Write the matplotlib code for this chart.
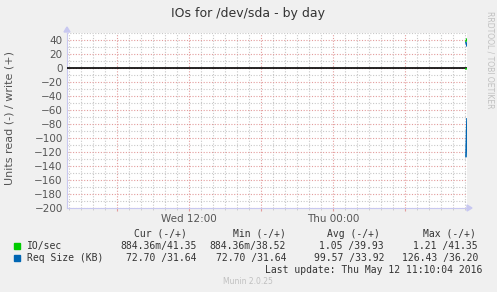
import matplotlib
matplotlib.use('Agg')
import matplotlib.pyplot as plt
import matplotlib.dates as mdates
from matplotlib.patches import Rectangle
from matplotlib.ticker import MultipleLocator, FuncFormatter
from datetime import datetime, timedelta

# ---- data ----
last_update = datetime(2016, 5, 12, 11, 10, 4)
sample_times = [last_update - timedelta(minutes=5), last_update]

io_read = [-1.21, -0.884]
io_write = [38.52, 41.35]
req_read = [-126.43, -72.70]
req_write = [36.20, 31.64]

series_names = ['IO/sec', 'Req Size (KB)']
series_colors = ['#00cc00', '#0066b3']
stat_headers = ['Cur (-/+)', 'Min (-/+)', 'Avg (-/+)', 'Max (-/+)']
stat_values = [
    ['884.36m/41.35', '884.36m/38.52', '1.05 /39.93', '1.21 /41.35'],
    ['72.70 /31.64', '72.70 /31.64', '99.57 /33.92', '126.43 /36.20'],
]

W, H = 497, 292
BG = '#f0f0f0'
MAJOR = '#e39c9c'
MINOR = '#c8c8c8'
AXIS = '#c8c8f0'
TXT = '#555555'

fig = plt.figure(figsize=(W / 100, H / 100), dpi=100, facecolor=BG)

# plot area in pixels: x 67..467, y 33..208
left, right, top, bottom = 67, 467, 33, 208
ax = fig.add_axes([left / W, 1 - bottom / H, (right - left) / W, (bottom - top) / H])
ax.set_facecolor('white')

t_end = last_update
t_start = t_end - timedelta(seconds=400 * 300)
ax.set_xlim(t_start, t_end)
ax.set_ylim(-200, 50)

ax.xaxis.set_major_locator(mdates.HourLocator(byhour=[0, 6, 12, 18]))
ax.xaxis.set_minor_locator(mdates.HourLocator())


def xlabel(x, pos):
    d = mdates.num2date(x)
    if d.hour in (0, 12):
        return d.strftime('%a %H:%M')
    return ''


ax.xaxis.set_major_formatter(FuncFormatter(xlabel))
ax.yaxis.set_major_locator(MultipleLocator(20))
ax.yaxis.set_minor_locator(MultipleLocator(10))

ax.grid(which='minor', color=MINOR, linestyle=(0, (1, 1.5)), linewidth=0.8)
ax.grid(which='major', color=MAJOR, linestyle=(0, (1, 1.5)), linewidth=0.8)
ax.set_axisbelow(True)

ax.tick_params(axis='both', which='major', labelsize=7.5, labelcolor=TXT, color=MAJOR, length=2, pad=2)
ax.tick_params(axis='both', which='minor', color=MINOR, length=1.5)
ax.tick_params(axis='y', which='both', length=0, pad=3)

for s in ['top', 'right']:
    ax.spines[s].set_visible(False)
for s in ['left', 'bottom']:
    ax.spines[s].set_color(AXIS)
    ax.spines[s].set_linewidth(0.8)

# zero line
ax.axhline(0, color='black', linewidth=1.2, zorder=3)

ax.plot(sample_times, io_read, color=series_colors[0], linewidth=1.2, zorder=4)
ax.plot(sample_times, io_write, color=series_colors[0], linewidth=1.2, zorder=4)
ax.plot(sample_times, req_read, color=series_colors[1], linewidth=1.2, zorder=4)
ax.plot(sample_times, req_write, color=series_colors[1], linewidth=1.2, zorder=4)

# arrows at axis ends
fig.patches.append(plt.Polygon([[left - 3, H - top + 1], [left + 3, H - top + 1], [left, H - top + 6]],
                               closed=True, color=AXIS, transform=None, figure=fig))
fig.patches.append(plt.Polygon([[right, H - bottom - 3], [right, H - bottom + 3], [right + 5, H - bottom]],
                               closed=True, color=AXIS, transform=None, figure=fig))

# texts
fig.text(248 / W, 1 - 13 / H, 'IOs for /dev/sda - by day', ha='center', va='center',
         fontsize=9, color='#333333')
fig.text(10 / W, 1 - 118 / H, 'Units read (-) / write (+)', ha='center', va='center',
         rotation=90, fontsize=8, color=TXT)
fig.text(490 / W, 1 - 60 / H, 'RRDTOOL / TOBI OETIKER', ha='center', va='center',
         rotation=270, fontsize=5.5, color='#c0c0c0')

mono = 'DejaVu Sans Mono'
header_x = [187, 286, 380, 476]
value_x = [197, 286, 384, 478]
for hx, h in zip(header_x, stat_headers):
    fig.text(hx / W, 1 - 234 / H, h, ha='right', va='center', family=mono, fontsize=7, color='#333333')
for row, (name, col, vals) in enumerate(zip(series_names, series_colors, stat_values)):
    y = 246 + row * 12
    fig.patches.append(Rectangle((14, H - y - 3), 6, 6, color=col, transform=None, figure=fig))
    fig.text(27 / W, 1 - y / H, name, ha='left', va='center', family=mono, fontsize=7, color='#333333')
    for vx, v in zip(value_x, vals):
        fig.text(vx / W, 1 - y / H, v, ha='right', va='center', family=mono, fontsize=7, color='#333333')

fig.text(482 / W, 1 - 270 / H, 'Last update: ' + last_update.strftime('%a %b %d %H:%M:%S %Y'),
         ha='right', va='center', family=mono, fontsize=7, color='#333333')
fig.text(248 / W, 1 - 281 / H, 'Munin 2.0.25', ha='center', va='center', fontsize=5.5, color='#c0c0c0')

fig.savefig('out.png', dpi=100, facecolor=BG)
